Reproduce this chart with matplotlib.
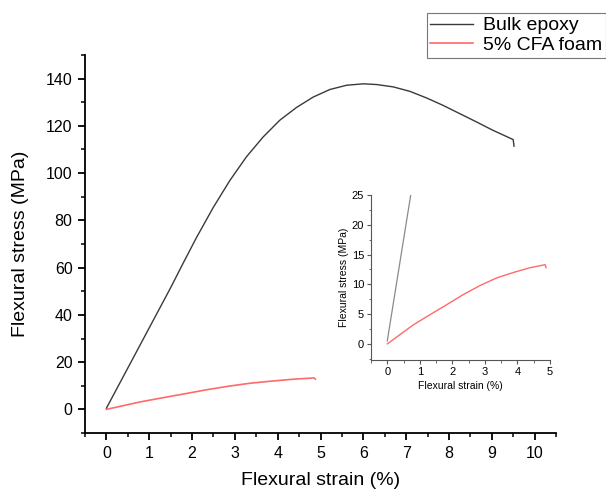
import matplotlib
matplotlib.use("Agg")
import matplotlib.pyplot as plt
from matplotlib.ticker import MultipleLocator

plt.rcParams['font.family'] = ['Liberation Sans', 'DejaVu Sans']

# Data
bulk_strain = [0.0, 0.25, 0.5, 0.75, 1.0, 1.25, 1.5, 1.79, 2.10, 2.49, 2.88, 3.27, 3.66,
               4.05, 4.44, 4.83, 5.22, 5.61, 6.0, 6.31, 6.70, 7.09, 7.48, 7.86, 8.25,
               8.64, 9.03, 9.50, 9.52]
bulk_stress = [0.5, 9.0, 17.5, 26.0, 34.5, 43.0, 51.5, 61.8, 72.6, 85.3, 96.8, 106.9, 115.3,
               122.4, 127.8, 132.2, 135.4, 137.2, 137.8, 137.5, 136.5, 134.6, 131.8, 128.7,
               125.2, 121.7, 118.1, 114.2, 111.4]

foam_strain = [0.0, 0.4, 0.8, 1.31, 1.83, 2.34, 2.85, 3.37, 3.88, 4.39, 4.85, 4.88]
foam_stress = [0.0, 1.6, 3.2, 4.9, 6.6, 8.3, 9.8, 11.1, 12.0, 12.8, 13.3, 12.8]

x_ticks = list(range(0, 11))
y_ticks = list(range(0, 141, 20))
inset_x_ticks = [0, 1, 2, 3, 4, 5]
inset_y_ticks = [0, 5, 10, 15, 20, 25]

BLACK = '#3a3a3a'
RED = '#ff6a6a'

W, H = 606, 490
fig = plt.figure(figsize=(W / 100, H / 100), dpi=100)

def rect(l, r, t, b):
    return [l / W, 1 - b / H, (r - l) / W, (b - t) / H]

ax = fig.add_axes(rect(85, 556, 55, 433))
l1, = ax.plot(bulk_strain, bulk_stress, color=BLACK, lw=1.0, label='Bulk epoxy')
l2, = ax.plot(foam_strain, foam_stress, color=RED, lw=1.2, label='5% CFA foam')
ax.set_xlim(-0.5, 10.5)
ax.set_ylim(-10, 150)
ax.set_xticks(x_ticks)
ax.set_yticks(y_ticks)
ax.xaxis.set_minor_locator(MultipleLocator(0.5))
ax.yaxis.set_minor_locator(MultipleLocator(10))
for s in ['top', 'right']:
    ax.spines[s].set_visible(False)
for s in ['left', 'bottom']:
    ax.spines[s].set_linewidth(1.3)
ax.tick_params(which='major', direction='out', length=5, width=1.3, labelsize=11.5, pad=4)
ax.tick_params(which='minor', direction='out', length=3, width=1.1)
ax.set_xlabel('Flexural strain (%)', fontsize=14, labelpad=8)
ax.set_ylabel('Flexural stress (MPa)', fontsize=14, labelpad=12)

# inset
ia = fig.add_axes(rect(371, 550, 195, 360))
ia.plot(bulk_strain, bulk_stress, color='#8a8a8a', lw=0.9)
ia.plot(foam_strain, foam_stress, color=RED, lw=1.0)
ia.set_xlim(-0.5, 5.0)
ia.set_ylim(-2.7, 25)
ia.set_xticks(inset_x_ticks)
ia.set_yticks(inset_y_ticks)
ia.xaxis.set_minor_locator(MultipleLocator(0.5))
ia.yaxis.set_minor_locator(MultipleLocator(2.5))
for s in ['top', 'right']:
    ia.spines[s].set_visible(False)
for s in ['left', 'bottom']:
    ia.spines[s].set_linewidth(0.8)
    ia.spines[s].set_color('#555555')
ia.tick_params(which='major', direction='out', length=3, width=0.8, labelsize=8, pad=2, color='#555555')
ia.tick_params(which='minor', direction='out', length=1.8, width=0.6, color='#555555')
ia.set_xlabel('Flexural strain (%)', fontsize=7.5, labelpad=3)
ia.set_ylabel('Flexural stress (MPa)', fontsize=7.5, labelpad=2)
ia.patch.set_alpha(0)

leg = fig.legend(handles=[l1, l2], loc='upper right', bbox_to_anchor=(606 / W, 1 - 13 / H),
                 fontsize=14, frameon=True, fancybox=False, handlelength=2.2,
                 handletextpad=0.5, borderpad=0.2, labelspacing=0.1, borderaxespad=0)
leg.get_frame().set_edgecolor('#555555')
leg.get_frame().set_linewidth(0.8)

fig.savefig('out.png', dpi=100)
